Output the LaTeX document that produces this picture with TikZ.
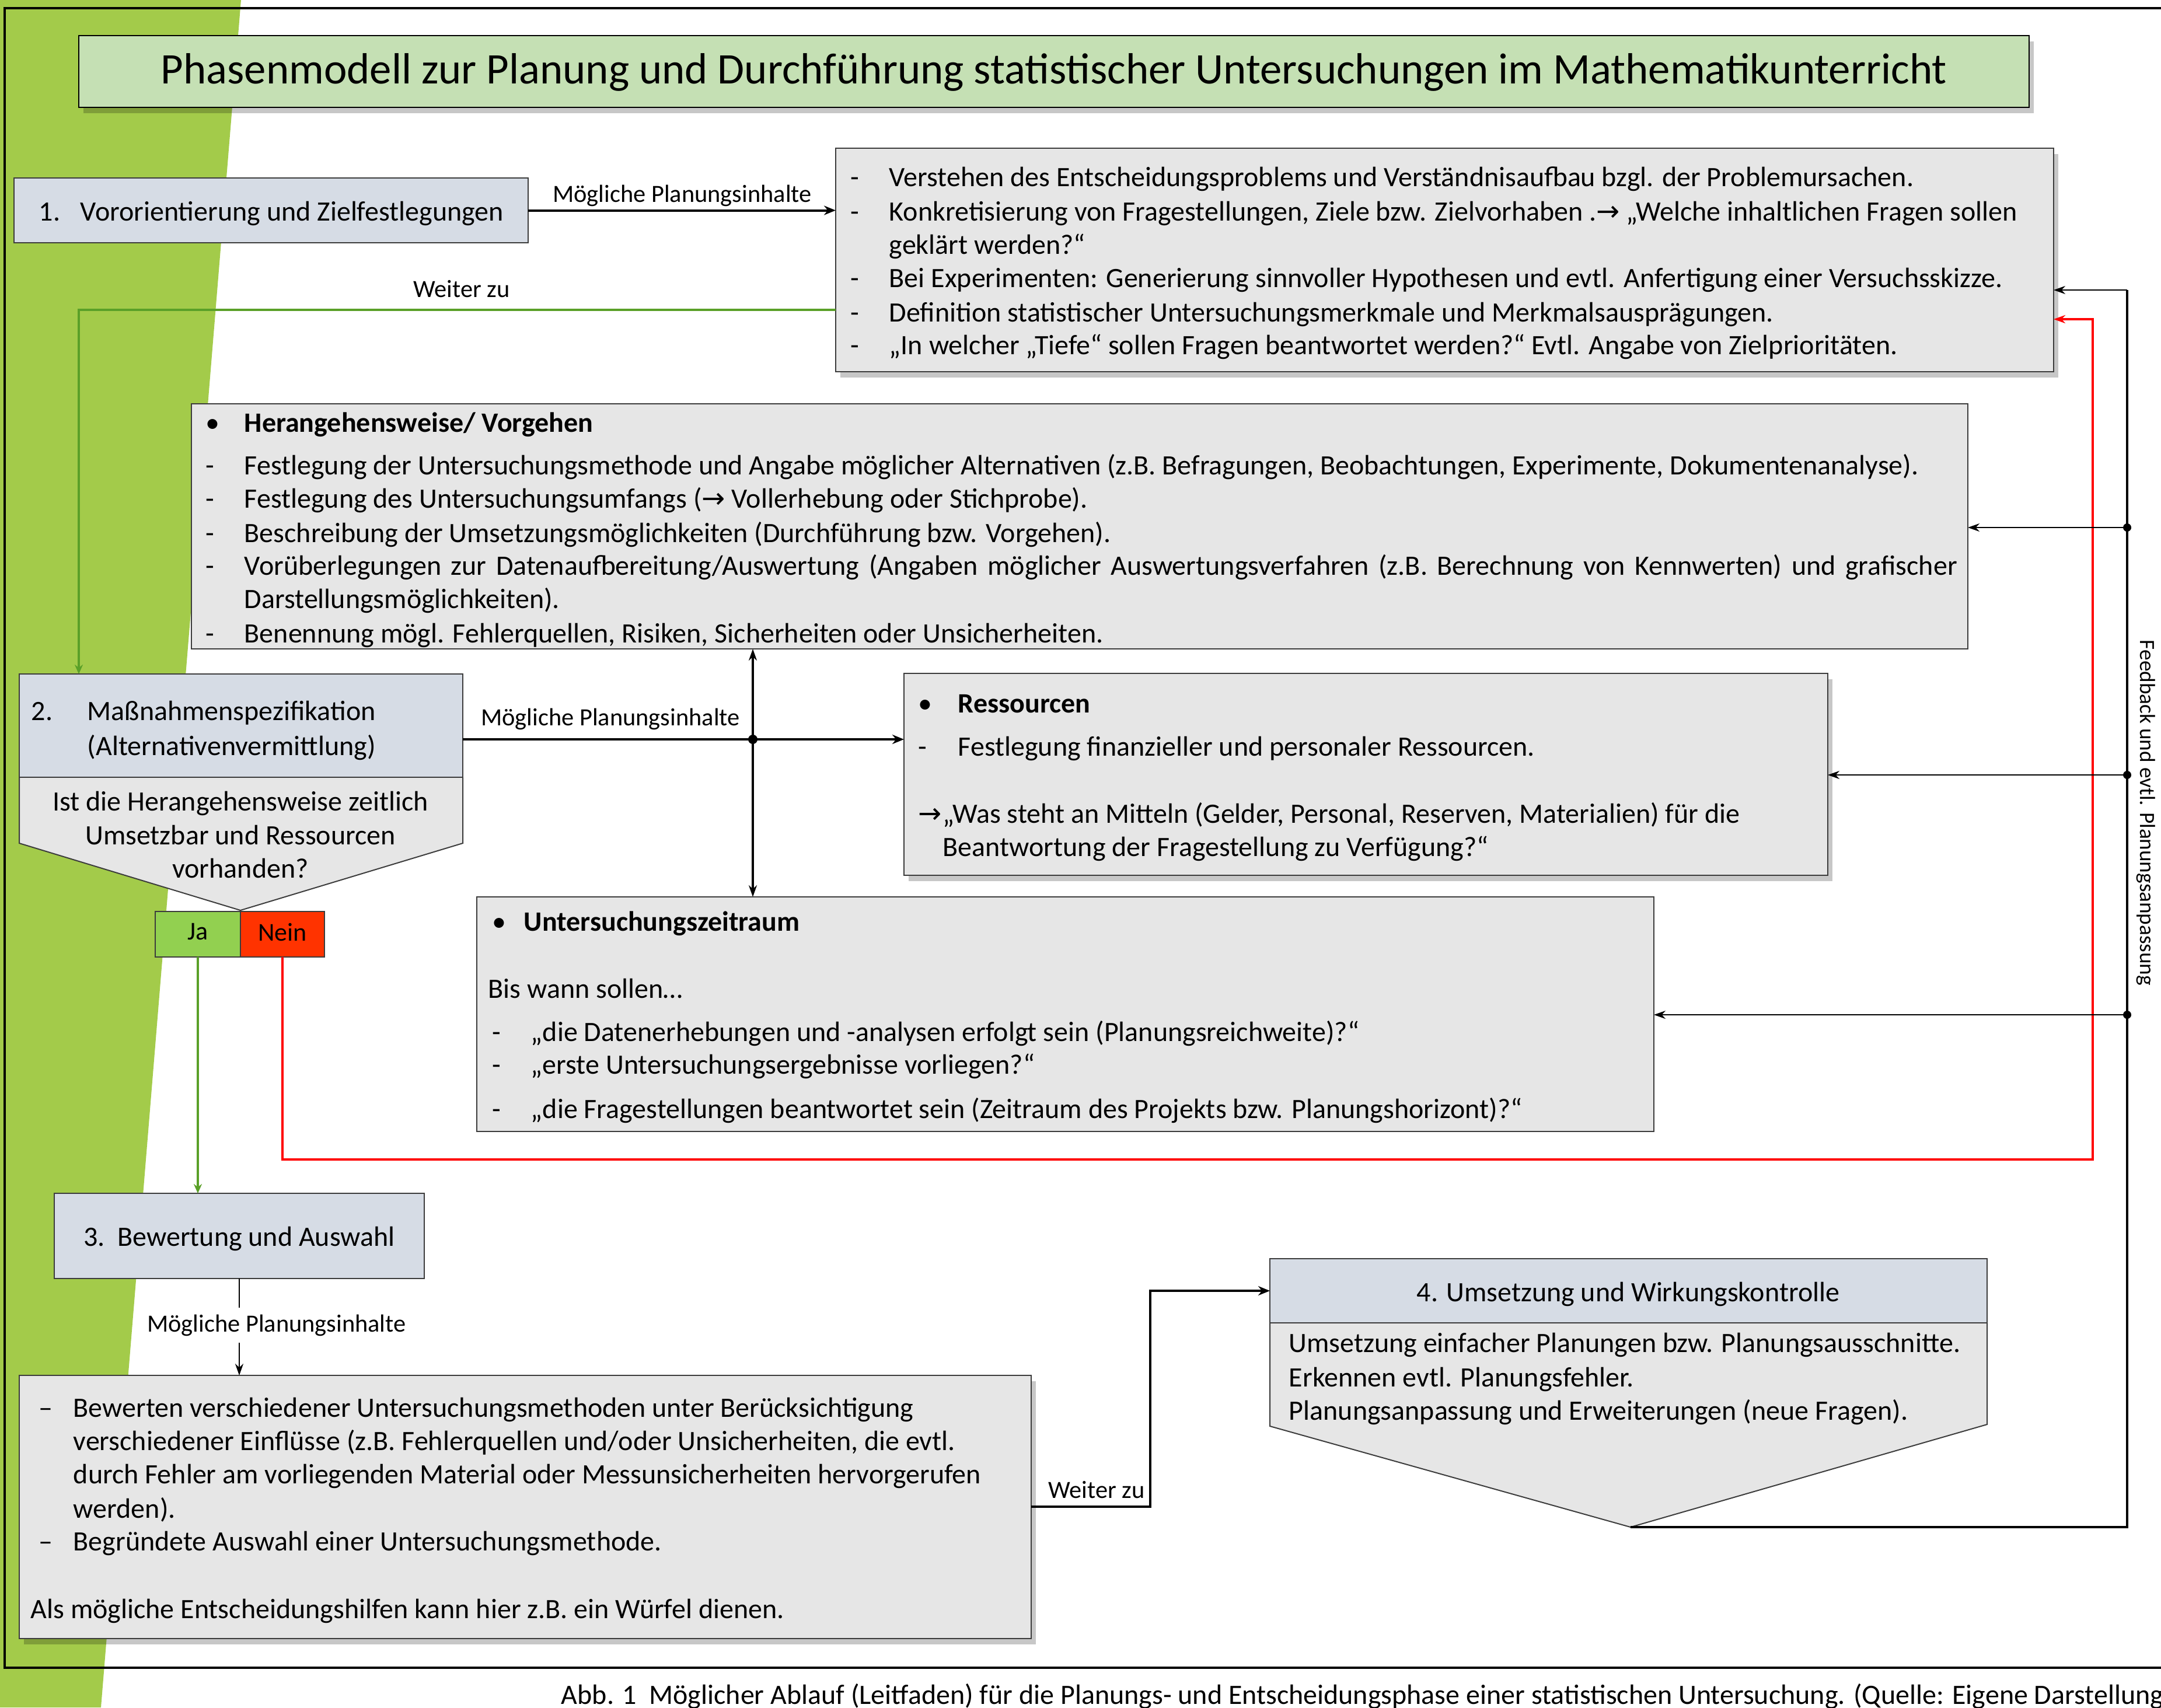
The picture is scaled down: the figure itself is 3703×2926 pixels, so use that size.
\documentclass[tikz,border=0pt]{standalone}
\usepackage{fontspec}
\setmainfont{Carlito}
\newfontfamily\arrowfont{DejaVu Sans}
\usetikzlibrary{arrows.meta,fit,shadows}
\definecolor{bggreen}{RGB}{163,203,74}
\definecolor{titlegreen}{RGB}{197,224,180}
\definecolor{hdrblue}{RGB}{214,220,229}
\definecolor{boxgray}{RGB}{230,230,230}
\definecolor{lgreen}{RGB}{90,160,40}
\definecolor{jagreen}{RGB}{146,208,80}
\definecolor{neinred}{RGB}{255,51,0}
\definecolor{lred}{RGB}{255,0,0}
\definecolor{bordergray}{RGB}{60,60,60}
\newcommand\ftitle{\fontsize{18.7}{22}\selectfont}
\newcommand\fbody{\fontsize{12}{14}\selectfont}
\newcommand\fhead{\fontsize{12}{14}\selectfont}
\newcommand\fyn{\fontsize{11}{13}\selectfont}
\newcommand\flab{\fontsize{10.6}{12.5}\selectfont}
\newcommand\fvert{\fontsize{9.3}{11}\selectfont}
\newcommand\rarr{{\arrowfont\char"2192}}
\newcommand\txtline[5][]{\node[tx,#1] (#2) at (#3,#4) {#5};}
\tikzset{
  pbox/.style={draw=bordergray, line width=0.5pt, inner sep=0pt, outer sep=0pt},
  shad/.style={drop shadow={shadow xshift=2pt, shadow yshift=-2.5pt, fill=black, opacity=0.22}},
  tx/.style={anchor=base west, inner sep=0pt, font=\fbody, yshift=-0.8pt},
  ctx/.style={anchor=base, inner sep=0pt, yshift=-0.8pt},
  lab/.style={anchor=base, inner sep=0pt, font=\flab},
  conn/.style={draw=black, line width=1pt, -{Stealth[length=5pt,width=4pt]}},
  thinconn/.style={draw=black, line width=0.55pt, -{Stealth[length=5pt,width=3.5pt]}},
  gconn/.style={draw=lgreen, line width=0.9pt, -{Stealth[length=4pt,width=3.5pt]}},
  rconn/.style={draw=lred, line width=0.9pt, -{Stealth[length=5pt,width=3.5pt]}},
  dot/.style={circle, fill=black, inner sep=0pt, minimum size=4pt}
}
\begin{document}
\begin{tikzpicture}[x=0.25pt,y=-0.25pt]
\useasboundingbox (0,0) rectangle (3703,2926);
% green background
\fill[bggreen] (0,0) -- (413,0) -- (173,2926) -- (0,2926) -- cycle;
% frame
\draw[line width=1.2pt] (3703,14) -- (8,14) -- (8,2858) -- (3703,2858);

% title
\coordinate (ti1) at (135,61); \coordinate (ti2) at (3477,184);
\node[pbox, draw=black, line width=0.7pt, fill=titlegreen, shad, fit=(ti1)(ti2)] (title) {};
\node[ctx, font=\ftitle] (titletext) at (1806,140) {Phasenmodell zur Planung und Durchführung statistischer Untersuchungen im Mathematikunterricht};

% box 1
\coordinate (a1) at (24,305); \coordinate (a2) at (905,416);
\node[pbox, fill=hdrblue, fit=(a1)(a2)] (box1) {};
\txtline{b1n}{66}{375}{1.}
\txtline{b1t}{137}{375}{Vororientierung und Zielfestlegungen}

% planning list 1
\coordinate (p1) at (1432,254); \coordinate (p2) at (3519,637);
\node[pbox, fill=boxgray, shad, fit=(p1)(p2)] (pl1) {};
\txtline{pd1}{1457}{316}{-}
\txtline{pt1}{1523}{316}{Verstehen des Entscheidungsproblems und Verständnisaufbau bzgl. der Problemursachen.}
\txtline{pd2}{1457}{375}{-}
\txtline{pt2}{1523}{375}{Konkretisierung von Fragestellungen, Ziele bzw. Zielvorhaben .\rarr\ „Welche inhaltlichen Fragen sollen}
\txtline{pt3}{1523}{432}{geklärt werden?“}
\txtline{pd4}{1457}{489}{-}
\txtline{pt4}{1523}{489}{Bei Experimenten: Generierung sinnvoller Hypothesen und evtl. Anfertigung einer Versuchsskizze.}
\txtline{pd5}{1457}{548}{-}
\txtline{pt5}{1523}{548}{Definition statistischer Untersuchungsmerkmale und Merkmalsausprägungen.}
\txtline{pd6}{1457}{604}{-}
\txtline{pt6}{1523}{604}{„In welcher „Tiefe“ sollen Fragen beantwortet werden?“ Evtl. Angabe von Zielprioritäten.}

% Herangehensweise
\coordinate (h1) at (328,692); \coordinate (h2) at (3372,1112);
\node[pbox, fill=boxgray, fit=(h1)(h2)] (heran) {};
\txtline{hb0}{352}{737}{•}
\txtline[font=\fbody\bfseries]{ht0}{418}{737}{Herangehensweise/ Vorgehen}
\txtline{hd1}{352}{810}{-}
\txtline{ht1}{418}{810}{Festlegung der Untersuchungsmethode und Angabe möglicher Alternativen (z.B. Befragungen, Beobachtungen, Experimente, Dokumentenanalyse).}
\txtline{hd2}{352}{867}{-}
\txtline{ht2}{418}{867}{Festlegung des Untersuchungsumfangs (\rarr\ Vollerhebung oder Stichprobe).}
\txtline{hd3}{352}{926}{-}
\txtline{ht3}{418}{926}{Beschreibung der Umsetzungsmöglichkeiten (Durchführung bzw. Vorgehen).}
\txtline{hd4}{352}{982}{-}
\txtline{ht4}{418}{982}{\makebox[733.75pt][s]{Vorüberlegungen zur Datenaufbereitung/Auswertung (Angaben möglicher Auswertungsverfahren (z.B. Berechnung von Kennwerten) und grafischer}}
\txtline{ht5}{418}{1039}{Darstellungsmöglichkeiten).}
\txtline{hd6}{352}{1098}{-}
\txtline{ht6}{418}{1098}{Benennung mögl. Fehlerquellen, Risiken, Sicherheiten oder Unsicherheiten.}

% box 2
\coordinate (c1) at (33,1155); \coordinate (c2) at (793,1332);
\fill[boxgray] (33,1332) -- (793,1332) -- (793,1445) -- (412,1560) -- (33,1445) -- cycle;
\draw[bordergray, line width=0.5pt] (33,1332) -- (33,1445) -- (412,1560) -- (793,1445) -- (793,1332);
\coordinate (b2tip) at (412,1560);
\node[pbox, fill=hdrblue, fit=(c1)(c2)] (b2h) {};
\txtline[font=\fhead]{b2n}{53}{1231}{2.}
\txtline[font=\fhead]{b2t1}{149}{1231}{Maßnahmenspezifikation}
\txtline[font=\fhead]{b2t2}{149}{1291}{(Alternativenvermittlung)}
\node[ctx, font=\fhead] (q1) at (412,1386) {Ist die Herangehensweise zeitlich};
\node[ctx, font=\fhead] (q2) at (412,1444) {Umsetzbar und Ressourcen};
\node[ctx, font=\fhead] (q3) at (412,1501) {vorhanden?};

% Ja / Nein
\coordinate (j1) at (266,1562); \coordinate (j2) at (412,1640);
\node[pbox, fill=jagreen, fit=(j1)(j2)] (ja) {};
\node[font=\fyn, inner sep=0pt] (jat) at (339,1597) {Ja};
\coordinate (n1) at (412,1562); \coordinate (n2) at (556,1640);
\node[pbox, fill=neinred, fit=(n1)(n2)] (nein) {};
\node[font=\fyn, inner sep=0pt] (neint) at (484,1597) {Nein};

% Ressourcen
\coordinate (r1) at (1549,1154); \coordinate (r2) at (3132,1500);
\node[pbox, fill=boxgray, shad, fit=(r1)(r2)] (ress) {};
\txtline{rb0}{1573}{1218}{•}
\txtline[font=\fbody\bfseries]{rt0}{1641}{1218}{Ressourcen}
\txtline{rd1}{1573}{1292}{-}
\txtline{rt1}{1641}{1292}{Festlegung finanzieller und personaler Ressourcen.}
\txtline{ra2}{1573}{1407}{\rarr}
\txtline{rt2}{1615}{1407}{„Was steht an Mitteln (Gelder, Personal, Reserven, Materialien) für die}
\txtline{rt3}{1615}{1464}{Beantwortung der Fragestellung zu Verfügung?“}

% Untersuchungszeitraum
\coordinate (u1) at (817,1537); \coordinate (u2) at (2834,1939);
\node[pbox, fill=boxgray, fit=(u1)(u2)] (unt) {};
\txtline{ub0}{843}{1592}{•}
\txtline[font=\fbody\bfseries]{ut0}{897}{1592}{Untersuchungszeitraum}
\txtline{ut1}{836}{1707}{Bis wann sollen…}
\txtline{ud2}{843}{1781}{-}
\txtline{ut2}{909}{1781}{„die Datenerhebungen und -analysen erfolgt sein (Planungsreichweite)?“}
\txtline{ud3}{843}{1837}{-}
\txtline{ut3}{909}{1837}{„erste Untersuchungsergebnisse vorliegen?“}
\txtline{ud4}{843}{1913}{-}
\txtline{ut4}{909}{1913}{„die Fragestellungen beantwortet sein (Zeitraum des Projekts bzw. Planungshorizont)?“}

% box 3
\coordinate (d1) at (93,2045); \coordinate (d2) at (727,2191);
\node[pbox, fill=hdrblue, fit=(d1)(d2)] (b3) {};
\node[ctx, font=\fbody] (b3t) at (410,2132) {3.\ \ Bewertung und Auswahl};

% Bewerten
\coordinate (e1) at (33,2357); \coordinate (e2) at (1767,2808);
\node[pbox, fill=boxgray, shad, fit=(e1)(e2)] (bew) {};
\txtline{ed1}{66}{2425}{–}
\txtline{et1}{125}{2425}{Bewerten verschiedener Untersuchungsmethoden unter Berücksichtigung}
\txtline{et2}{125}{2482}{verschiedener Einflüsse (z.B. Fehlerquellen und/oder Unsicherheiten, die evtl.}
\txtline{et3}{125}{2539}{durch Fehler am vorliegenden Material oder Messunsicherheiten hervorgerufen}
\txtline{et4}{125}{2598}{werden).}
\txtline{ed5}{66}{2654}{–}
\txtline{et5}{125}{2654}{Begründete Auswahl einer Untersuchungsmethode.}
\txtline{et6}{52}{2770}{Als mögliche Entscheidungshilfen kann hier z.B. ein Würfel dienen.}

% box 4
\coordinate (f1) at (2176,2157); \coordinate (f2) at (3405,2267);
\fill[boxgray] (2176,2267) -- (3405,2267) -- (3405,2441) -- (2794,2617) -- (2176,2444) -- cycle;
\draw[bordergray, line width=0.5pt] (2176,2267) -- (2176,2444) -- (2794,2617) -- (3405,2441) -- (3405,2267);
\coordinate (b4tip) at (2794,2617);
\node[pbox, fill=hdrblue, fit=(f1)(f2)] (b4h) {};
\node[ctx, font=\fbody] (b4t) at (2790,2227) {4. Umsetzung und Wirkungskontrolle};
\txtline{ft1}{2208}{2314}{Umsetzung einfacher Planungen bzw. Planungsausschnitte.}
\txtline{ft2}{2208}{2373}{Erkennen evtl. Planungsfehler.}
\txtline{ft3}{2208}{2430}{Planungsanpassung und Erweiterungen (neue Fragen).}

% ---- connectors ----
% box1 -> list 1
\draw[conn] (box1.east) -- (box1.east -| pl1.west);
\node[lab] (l1) at (1169,346) {Mögliche Planungsinhalte};
% green: list 1 -> box 2
\coordinate (gA) at (135,531);
\draw[gconn] (gA -| pl1.west) -- (gA) -- (gA |- b2h.north);
\node[lab] (l2) at (791,509) {Weiter zu};
% box 2 -> resources, junction
\coordinate (J) at (1290,1267);
\draw[conn] (J -| b2h.east) -- (J -| ress.west);
\draw[line width=0.8pt, {Stealth[length=5pt,width=3.5pt]}-{Stealth[length=5pt,width=3.5pt]}] (J |- heran.south) -- (J |- unt.north);
\node[dot] (Jd) at (J) {};
\node[lab] (l3) at (1046,1243) {Mögliche Planungsinhalte};
% Ja -> box 3
\draw[gconn] (ja.south) -- (ja.south |- b3.north);
% Nein -> red loop
\coordinate (R1) at (3586,1987); \coordinate (R2) at (3586,547);
\draw[rconn] (nein.south) |- (R1) -- (R2) -- (R2 -| pl1.east);
% box 3 -> Bewerten
\draw[line width=0.6pt, -{Stealth[length=5pt,width=3.5pt]}] (b3.south) -- (b3.south |- bew.north);
\node[lab, fill=white, inner sep=3pt] (l4) at (474,2282) {Mögliche Planungsinhalte};
% Bewerten -> box 4
\coordinate (W1) at (1971,2582); \coordinate (W2) at (1971,2212);
\draw[conn] (W1 -| bew.east) -- (W1) -- (W2) -- (W2 -| b4h.west);
\node[lab] (l5) at (1879,2567) {Weiter zu};
% feedback
\coordinate (F1) at (3645,2617); \coordinate (F2) at (3645,497);
\draw[line width=1.2pt] (b4tip) -- (F1) -- (F2);
\draw[thinconn] (F2) -- (F2 -| pl1.east);
\coordinate (K1) at (3645,904); \coordinate (K2) at (3645,1328); \coordinate (K3) at (3645,1739);
\draw[thinconn] (K1) -- (K1 -| heran.east);
\draw[thinconn] (K2) -- (K2 -| ress.east);
\draw[thinconn] (K3) -- (K3 -| unt.east);
\node[dot, minimum size=3.5pt] (K1d) at (K1) {};
\node[dot, minimum size=3.5pt] (K2d) at (K2) {};
\node[dot, minimum size=3.5pt] (K3d) at (K3) {};
\node[font=\fvert, rotate=-90, inner sep=0pt] (fb) at (3677,1393) {Feedback und evtl. Planungsanpassung};

% caption
\txtline{cap}{961}{2917}{Abb. 1\ \ Möglicher Ablauf (Leitfaden) für die Planungs- und Entscheidungsphase einer statistischen Untersuchung. (Quelle: Eigene Darstellung}
\end{tikzpicture}
\end{document}
